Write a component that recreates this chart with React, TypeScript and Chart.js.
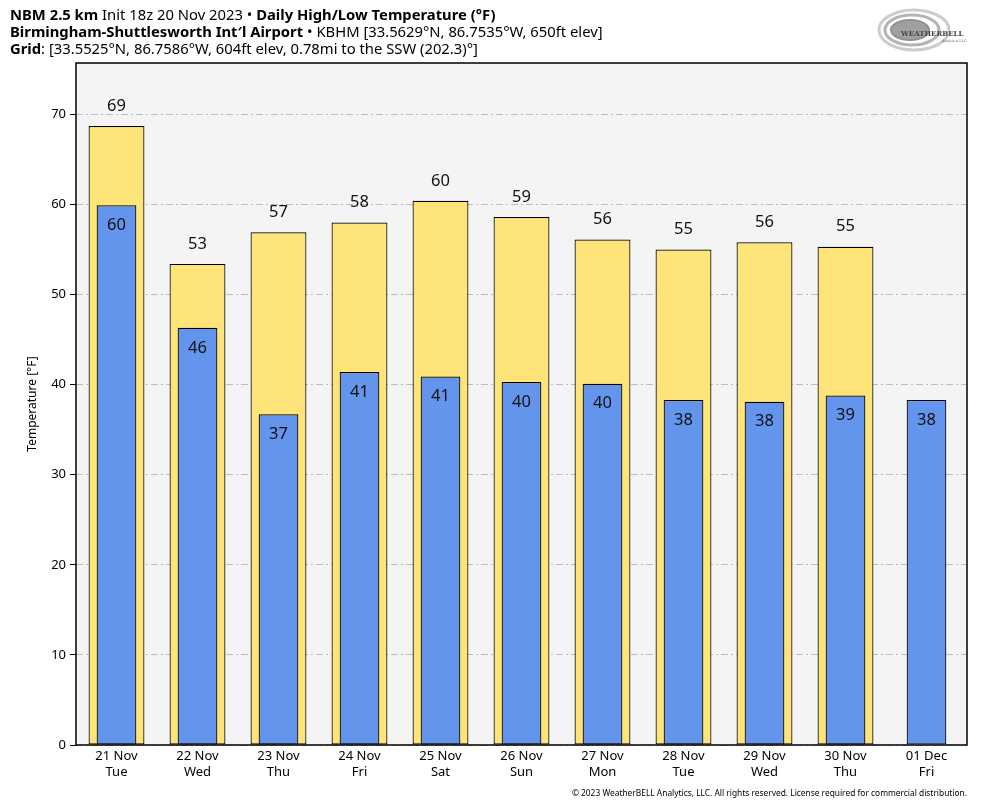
import React, { useEffect, useRef } from "react";
import { Chart, registerables } from "chart.js";

Chart.register(...registerables);

const dates = ["21 Nov", "22 Nov", "23 Nov", "24 Nov", "25 Nov", "26 Nov", "27 Nov", "28 Nov", "29 Nov", "30 Nov", "01 Dec"];
const weekdays = ["Tue", "Wed", "Thu", "Fri", "Sat", "Sun", "Mon", "Tue", "Wed", "Thu", "Fri"];
const highTemps: (number | null)[] = [68.7, 53.4, 56.9, 58.0, 60.4, 58.6, 56.1, 55.0, 55.8, 55.3, null];
const lowTemps: (number | null)[] = [59.9, 46.3, 36.7, 41.4, 40.9, 40.3, 40.1, 38.3, 38.1, 38.8, 38.3];
const yTicks = [0, 10, 20, 30, 40, 50, 60, 70];

const FONT = "'Noto Sans', 'Open Sans', sans-serif";

const plotPlugin = {
  id: "plotDecor",
  beforeDraw(chart: any) {
    const { ctx, chartArea: a } = chart;
    ctx.save();
    ctx.fillStyle = "#f4f4f4";
    ctx.fillRect(a.left, a.top, a.right - a.left, a.bottom - a.top);
    ctx.restore();
  },
  afterDatasetsDraw(chart: any) {
    const { ctx, chartArea: a } = chart;
    ctx.save();
    ctx.strokeStyle = "#000";
    ctx.lineWidth = 1.5;
    ctx.strokeRect(a.left, a.top, a.right - a.left, a.bottom - a.top);
    ctx.font = `16.5px ${FONT}`;
    ctx.fillStyle = "#111";
    ctx.textAlign = "center";
    ctx.textBaseline = "middle";
    chart.data.datasets.forEach((ds: any, di: number) => {
      const meta = chart.getDatasetMeta(di);
      meta.data.forEach((el: any, i: number) => {
        const v = ds.data[i];
        if (v === null || v === undefined) return;
        const label = String(Math.round(v));
        if (di === 0) ctx.fillText(label, el.x, el.y - 20);
        else ctx.fillText(label, el.x, el.y + 20);
      });
    });
    ctx.restore();
  },
};

function Logo() {
  return (
    <svg width="92" height="48" viewBox="0 0 92 48" style={{ position: "absolute", left: 876, top: 6 }}>
      <ellipse cx="38" cy="24" rx="35" ry="20" fill="none" stroke="#cccccc" strokeWidth="3" />
      <ellipse cx="36" cy="24" rx="27" ry="15" fill="none" stroke="#b4b4b4" strokeWidth="3" />
      <ellipse cx="34" cy="24" rx="19" ry="10" fill="#a0a0a0" stroke="#909090" strokeWidth="2" />
      <text x="25" y="30" fontFamily="'DejaVu Serif', serif" fontSize="7" fill="#444" fontWeight="bold">
        WEATHERBELL
      </text>
      <text x="66" y="36" fontFamily="'DejaVu Serif', serif" fontSize="3.5" fill="#666">
        Analytics LLC
      </text>
    </svg>
  );
}

export default function App() {
  const ref = useRef<HTMLCanvasElement | null>(null);

  useEffect(() => {
    if (!ref.current) return;
    const labels = dates.map((d, i) => [d, weekdays[i]]);
    const chart = new Chart(ref.current, {
      type: "bar",
      data: {
        labels,
        datasets: [
          {
            label: "High",
            data: highTemps,
            backgroundColor: "#ffe47a",
            borderColor: "#000",
            borderWidth: 1.2,
            borderSkipped: false,
            barPercentage: 0.69,
            categoryPercentage: 1,
            grouped: false,
            order: 2,
          } as any,
          {
            label: "Low",
            data: lowTemps,
            backgroundColor: "#6495ed",
            borderColor: "#000",
            borderWidth: 1.2,
            borderSkipped: false,
            barPercentage: 0.49,
            categoryPercentage: 1,
            grouped: false,
            order: 1,
          } as any,
        ],
      },
      options: {
        animation: false,
        responsive: false,
        maintainAspectRatio: false,
        layout: { padding: { left: 0, right: 17, top: 63, bottom: 0 } },
        plugins: {
          legend: { display: false },
          tooltip: { enabled: false },
          title: { display: false },
        },
        scales: {
          x: {
            afterFit: (s: any) => {
              s.height = 63;
            },
            grid: { display: false, drawTicks: false },
            border: { display: false },
            ticks: {
              color: "#000",
              font: { family: FONT, size: 13, lineHeight: 1.23 },
              padding: 3,
              maxRotation: 0,
              autoSkip: false,
            },
          },
          y: {
            min: 0,
            max: 75.7,
            afterFit: (s: any) => {
              s.width = 76;
            },
            afterBuildTicks: (s: any) => {
              s.ticks = yTicks.map((v) => ({ value: v }));
            },
            grid: {
              color: "#bdbdbd",
              lineWidth: 1,
              drawTicks: true,
              tickLength: 6,
              tickColor: "#000",
              tickWidth: 1,
            },
            border: { display: false, dash: [7, 3, 2, 3] },
            ticks: {
              color: "#000",
              font: { family: FONT, size: 13 },
              padding: 4,
              includeBounds: false,
            },
            title: {
              display: true,
              text: "Temperature [°F]",
              color: "#000",
              font: { family: FONT, size: 12 },
              padding: { top: 25, bottom: 0 },
            },
          },
        },
      },
      plugins: [plotPlugin],
    });
    return () => chart.destroy();
  }, []);

  const lineStyle: React.CSSProperties = {
    position: "absolute",
    left: 10,
    fontFamily: FONT,
    fontSize: 14.8,
    color: "#000",
    whiteSpace: "nowrap",
    lineHeight: "17px",
  };

  return (
    <div style={{ position: "fixed", left: 0, top: 0, width: 984, height: 808, background: "#fff", overflow: "hidden" }}>
      <canvas ref={ref} width={984} height={808} style={{ position: "absolute", left: 0, top: 0, width: 984, height: 808 }} />
      <div style={{ ...lineStyle, top: 6 }}>
        <b>NBM 2.5 km</b> Init 18z 20 Nov 2023 • <b>Daily High/Low Temperature (°F)</b>
      </div>
      <div style={{ ...lineStyle, top: 23 }}>
        <b>Birmingham-Shuttlesworth Int′l Airport</b> • KBHM [33.5629°N, 86.7535°W, 650ft elev]
      </div>
      <div style={{ ...lineStyle, top: 40 }}>
        <b>Grid</b>: [33.5525°N, 86.7586°W, 604ft elev, 0.78mi to the SSW (202.3)°]
      </div>
      <Logo />
      <div
        style={{
          position: "absolute",
          right: 17,
          top: 787,
          fontFamily: FONT,
          fontSize: 8.4,
          color: "#000",
          whiteSpace: "nowrap",
        }}
      >
        © 2023 WeatherBELL Analytics, LLC. All rights reserved. License required for commercial distribution.
      </div>
    </div>
  );
}
